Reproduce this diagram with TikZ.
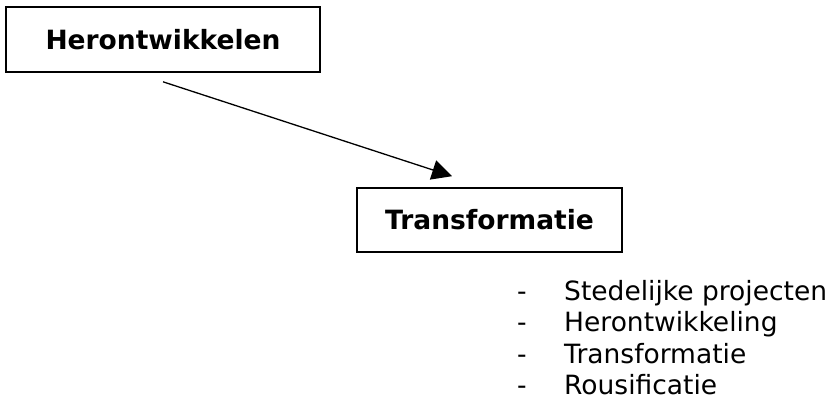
\documentclass[tikz,border=0pt]{standalone}
\usepackage{fontspec}
\setmainfont{DejaVu Sans}
\usetikzlibrary{arrows.meta, positioning}
\tikzset{%
  >={Triangle[width=20pt,length=20pt]},
  % Specifications for style of nodes:
    base/.style = {rectangle, draw=black, line width=1.6pt, inner sep=0pt,
                   text centered, font=\fontsize{26.5}{32}\selectfont\bfseries},
    mainTerm/.style = {base, minimum width=314pt, minimum height=65pt},
    subTerm/.style = {base, minimum width=265pt, minimum height=64pt},
    listItem/.style = {inner sep=0pt, anchor=base west, font=\fontsize{26.5}{32}\selectfont},
}
\newcommand{\itemDash}{\makebox[47pt][l]{-}}

\begin{document}
\begin{tikzpicture}[x=1pt, y=-1pt]
  \useasboundingbox (0,0) rectangle (834,399);
  \node (herontwikkelen)  [mainTerm] at (163,39.5) {Herontwikkelen};
  \node (transformatie)   [subTerm]  at (489.5,220) {Transformatie};

  \node (itemStedelijk)   [listItem] at (517,300) {\itemDash Stedelijke projecten};
  \node (itemHerontw)     [listItem] at ([yshift=-31.5pt]itemStedelijk.base west)
                                                  {\itemDash Herontwikkeling};
  \node (itemTransform)   [listItem] at ([yshift=-31.5pt]itemHerontw.base west)
                                                  {\itemDash Transformatie};
  \node (itemRousific)    [listItem] at ([yshift=-31.5pt]itemTransform.base west)
                                                  {\itemDash Rousificatie};

  \coordinate (arrowStart) at ([yshift=-9pt]herontwikkelen.south);
  \coordinate (arrowEnd) at ([xshift=-37.5pt, yshift=11pt]transformatie.north);

  % Specification of lines between nodes
  \draw[->, line width=1.3pt]      (arrowStart) -- (arrowEnd);
\end{tikzpicture}
\end{document}
